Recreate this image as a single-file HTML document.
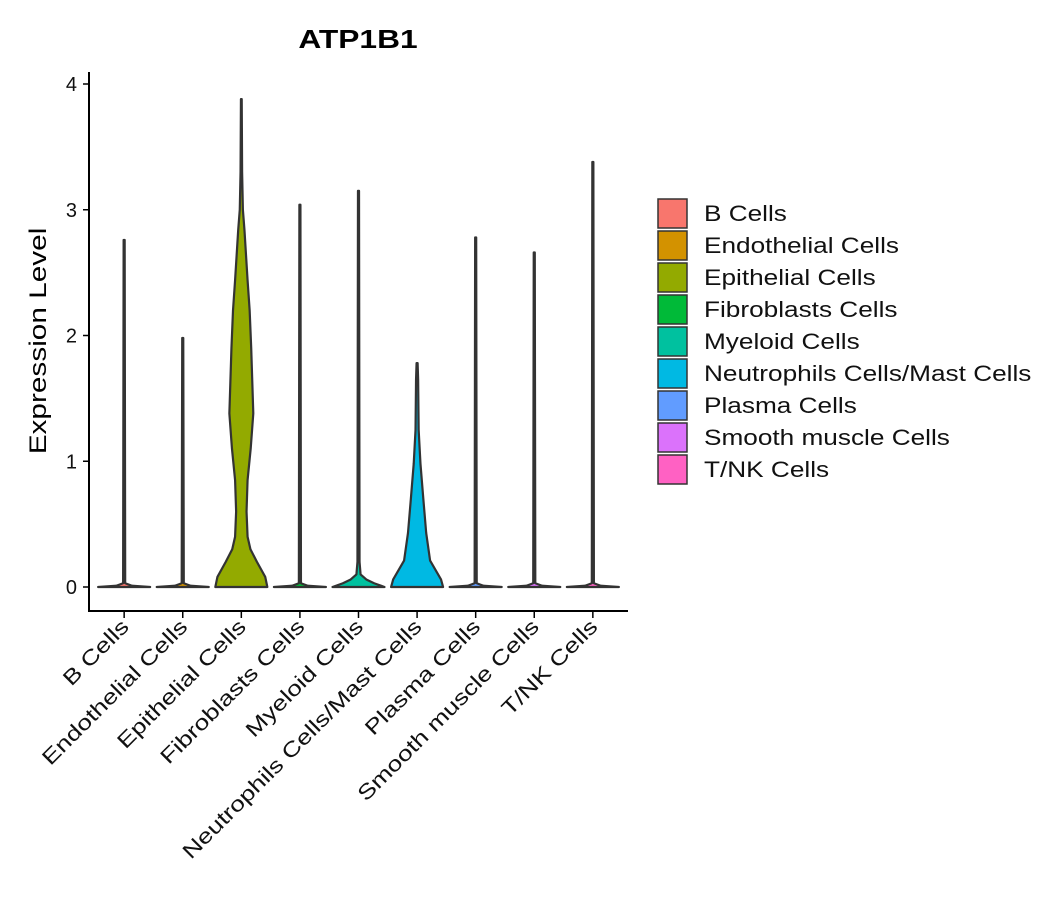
<!DOCTYPE html>
<html><head><meta charset="utf-8"><style>
body{margin:0;background:#fff;}
svg{display:block;font-family:"Liberation Sans",sans-serif;}
</style></head><body>
<svg id="chart" width="1057" height="900" xmlns="http://www.w3.org/2000/svg">
<text id="title" x="358" y="48" font-size="26" font-weight="bold" text-anchor="middle">ATP1B1</text>
<text id="ytitle" transform="translate(46,341) rotate(-90)" font-size="24" text-anchor="middle">Expression Level</text>
<g id="plot"></g>
<g id="legend"></g>
</svg>
<script>
const categories = ["B Cells","Endothelial Cells","Epithelial Cells","Fibroblasts Cells","Myeloid Cells","Neutrophils Cells/Mast Cells","Plasma Cells","Smooth muscle Cells","T/NK Cells"];
const colors = ["#F8766D","#D39200","#93AA00","#00BA38","#00C19F","#00B9E3","#619CFF","#DB72FB","#FF61C3"];
const yTicks = [0,1,2,3,4];
const maxValues = [2.76,1.98,3.88,3.04,3.15,1.78,2.78,2.66,3.38];
const epiLevels = [0,0.08,0.2,0.3,0.4,0.6,0.85,1.1,1.38,1.9,2.2,2.44,2.84,3.0,3.3,3.88];
const epiDens   = [1,0.92,0.6,0.35,0.24,0.2,0.24,0.36,0.46,0.38,0.32,0.24,0.12,0.06,0.03,0.015];
const neuLevels = [0,0.06,0.21,0.43,0.7,0.98,1.25,1.65,1.78];
const neuDens   = [1,0.92,0.5,0.35,0.24,0.13,0.06,0.04,0.02];
const myeLevels = [0,0.03,0.06,0.1,0.2,3.15];
const myeDens   = [1,0.6,0.3,0.08,0.04,0.02];
const thinLevels = [0,0.01,0.03];
const thinDens   = [1,0.3,0.04];

const X0=89, X1=628, Y0=72, Y1=611;
const yScale = v => 587 - v*125.75;
const step = (X1-X0)/(categories.length-1+1.2);
const xScale = i => X0 + (0.6+i)*step;
const maxHW = 26;
const NS="http://www.w3.org/2000/svg";
const plot=document.getElementById('plot');
function mk(tag,attrs,parent){const e=document.createElementNS(NS,tag);for(const k in attrs)e.setAttribute(k,attrs[k]);(parent||plot).appendChild(e);return e;}
function stretch(el,k){const w=el.getComputedTextLength();el.setAttribute('textLength',(w*k).toFixed(1));el.setAttribute('lengthAdjust','spacingAndGlyphs');}

function profile(i){
  if(i===2) return [epiLevels,epiDens];
  if(i===5) return [neuLevels,neuDens];
  if(i===4) return [myeLevels,myeDens];
  return [thinLevels.concat([maxValues[i]]), thinDens.concat([0.02])];
}
categories.forEach((c,i)=>{
  let [lv,dn]=profile(i);
  lv=lv.slice(); lv[lv.length-1]=maxValues[i];
  const cx=xScale(i);
  let right=lv.map((v,k)=>[cx+dn[k]*maxHW, yScale(v)]);
  let left=lv.map((v,k)=>[cx-dn[k]*maxHW, yScale(v)]).reverse();
  const pts=right.concat(left);
  let d="M"+pts.map(p=>p[0].toFixed(2)+","+p[1].toFixed(2)).join("L")+"Z";
  const p=mk('path',{d:d,fill:colors[i],stroke:"#333",'stroke-width':2.2,'stroke-linejoin':'round'});
  
  
  const t=mk('line',{x1:cx,x2:cx,y1:Y1,y2:Y1+7,stroke:"#000",'stroke-width':1.5});
  
  
  const lb=mk('text',{transform:`translate(${cx+6},${Y1+17}) rotate(-45)`,'font-size':21,'text-anchor':'end',fill:'#111'});
  lb.textContent=c;
  
  
  stretch(lb,1.25);
});
const ax=mk('path',{d:`M${X0},${Y0}V${Y1}H${X1}`,fill:"none",stroke:"#000",'stroke-width':2});


yTicks.forEach(v=>{
  const y=yScale(v);
  const t=mk('line',{x1:X0-6,x2:X0,y1:y,y2:y,stroke:"#000",'stroke-width':1.5});
  
  
  const l=mk('text',{x:X0-12,y:y+7,'font-size':20,'text-anchor':'end',fill:'#111'});
  l.textContent=v;
  
  
});
const lg=document.getElementById('legend');
categories.forEach((c,i)=>{
  const y=198+i*32;
  const r=mk('rect',{x:658,y:y+1,width:29,height:29,fill:colors[i],stroke:"#333",'stroke-width':1.5},lg);
  
  
  const t=mk('text',{x:704,y:y+23,'font-size':22,fill:'#111'},lg);
  t.textContent=c;
  
  
  stretch(t,1.19);
});
stretch(document.getElementById('title'),1.22);
stretch(document.getElementById('ytitle'),1.24);
</script>
</body></html>
